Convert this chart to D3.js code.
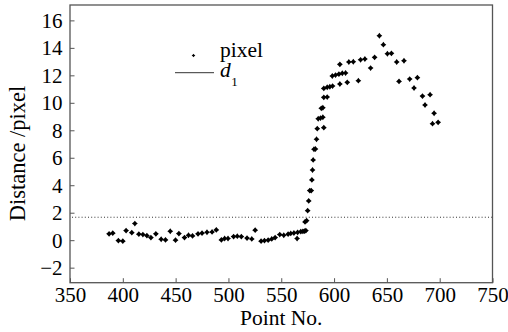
<!DOCTYPE html>
<html><head><meta charset="utf-8">
<script src="https://cdn.jsdelivr.net/npm/d3@7"></script>
<style>
html,body{margin:0;padding:0;background:#fff;}
svg{display:block;}
svg text{font-family:"Liberation Serif","Tinos","Times New Roman","DejaVu Serif",serif !important;fill:#000;}
</style></head>
<body>
<svg id="chart" width="508" height="332" font-family="Liberation Serif"></svg>
<script>
// Point numbers and distances (pixel)
const pointNo = [
 387.0,390.5,395.8,400.0,403.1,408.5,411.4,415.2,419.0,422.8,426.6,431.3,436.3,440.4,444.9,449.9,
 453.1,458.4,462.2,466.0,471.2,475.0,479.7,484.5,488.5,493.3,496.4,499.6,504.9,508.4,512.2,517.6,
 522.1,525.3,530.9,534.1,537.6,541.0,544.2,548.6,552.4,556.5,559.0,562.0,565.5,568.5,570.5,572.0,
 573.3,565.0,572.5,574.0,575.0,576.0,577.0,578.4,579.0,579.6,580.2,581.0,582.4,583.4,584.1,590.3,
 585.0,587.2,589.4,587.9,589.4,590.3,593.5,590.3,593.5,596.0,598.6,605.5,612.5,623.0,598.3,601.4,
 604.6,607.8,610.9,605.5,614.0,618.2,625.1,629.2,634.6,638.4,642.9,646.7,650.5,654.3,659.3,661.5,
 666.2,671.6,675.7,678.9,683.7,686.1,690.9,693.2,694.7,698.5
];
const distance = [
 0.46,0.51,-0.03,-0.07,0.70,0.55,1.21,0.44,0.41,0.33,0.19,0.46,0.07,0.02,0.65,0.00,
 0.48,0.19,0.36,0.31,0.46,0.51,0.58,0.60,0.75,0.02,0.12,0.12,0.26,0.29,0.26,0.15,
 0.09,0.73,-0.07,-0.03,0.00,0.09,0.19,0.41,0.36,0.44,0.49,0.52,0.57,0.62,0.64,0.66,
 0.70,0.12,1.33,1.42,2.15,2.86,3.61,3.61,4.39,5.11,5.84,6.62,6.64,7.35,8.12,8.19,
 8.84,8.89,8.95,9.60,9.64,10.40,10.42,11.05,11.13,11.17,11.22,11.37,11.49,11.61,11.95,12.02,
 12.09,12.15,12.17,12.80,12.97,12.99,13.13,13.19,12.53,13.31,14.88,14.23,13.57,13.60,12.97,11.56,
 13.06,11.73,11.08,11.83,10.49,9.84,10.59,8.48,9.24,8.58
];
const d1Value = 1.67;
const xTicks = [350,400,450,500,550,600,650,700,750];
const yTicks = [-2,0,2,4,6,8,10,12,14,16];
const xLabel = "Point No.";
const yLabel = "Distance /pixel";
const legendPixel = "pixel";

const FONT = "Liberation Serif";
const svg = d3.select("#chart");
const L = 70, R = 492.5, T = 5, B = 282.7;
const x = d3.scaleLinear().domain([350,750]).range([L,R]);
const y = d3.scaleLinear().domain([-3.095,17.12]).range([B,T]);
const axisColor = "#555";

// star marker
const star = {
  draw(ctx, size){
    const r = Math.sqrt(size)/2, k = r*0.45;
    ctx.moveTo(0,-r); ctx.lineTo(k,-k); ctx.lineTo(r,0); ctx.lineTo(k,k);
    ctx.lineTo(0,r); ctx.lineTo(-k,k); ctx.lineTo(-r,0); ctx.lineTo(-k,-k); ctx.closePath();
  }
};

// axes
const gx = svg.append("g").attr("transform",`translate(0,${B})`)
  .call(d3.axisBottom(x).tickValues(xTicks).tickSize(-4.5).tickPadding(0).tickFormat(d3.format("d")));
gx.attr("font-family",FONT).attr("font-size",21);
gx.select(".domain").remove();
gx.selectAll("line").attr("stroke",axisColor).attr("stroke-width",1);
gx.selectAll("text").attr("font-family",FONT).attr("font-size",21).attr("dy",null).attr("y",19.5);

const gy = svg.append("g").attr("transform",`translate(${L},0)`)
  .call(d3.axisLeft(y).tickValues(yTicks).tickSize(-4.5).tickPadding(7.5));
gy.attr("font-family",FONT).attr("font-size",21);
gy.select(".domain").remove();
gy.selectAll("line").attr("stroke",axisColor).attr("stroke-width",1);
gy.selectAll("text").attr("font-family",FONT).attr("font-size",21).attr("dy","0.33em");

// dotted d1 line
svg.append("line").attr("x1",x(350)+2).attr("x2",x(750)).attr("y1",y(d1Value)).attr("y2",y(d1Value))
  .attr("stroke","#333").attr("stroke-width",1).attr("stroke-dasharray","1,2.2");

// frame
svg.append("rect").attr("x",L).attr("y",T).attr("width",R-L).attr("height",B-T)
  .attr("fill","none").attr("stroke",axisColor).attr("stroke-width",1.3);

// points
const sym = d3.symbol().type(star).size(34);
svg.append("g").selectAll("path").data(pointNo.map((p,i)=>[p,distance[i]])).join("path")
  .attr("transform",d=>`translate(${x(d[0])},${y(d[1])})`)
  .attr("d",sym).attr("fill","#000");

// legend
svg.append("path").attr("transform","translate(193.5,55.5)").attr("d",d3.symbol().type(star).size(14)).attr("fill","#000");
svg.append("text").attr("font-family",FONT).attr("x",220).attr("y",57).attr("font-size",21.5).text(legendPixel);
svg.append("line").attr("x1",175).attr("x2",214).attr("y1",72.7).attr("y2",72.7).attr("stroke","#333").attr("stroke-width",1);
const dt = svg.append("text").attr("font-family",FONT).attr("x",220).attr("y",77).attr("font-size",21.5);
dt.append("tspan").attr("font-style","italic").text("d");
dt.append("tspan").attr("font-size",13).attr("dy",9).attr("dx",0.5).text("1");

// axis titles
svg.append("text").attr("font-family",FONT).attr("x",(L+R)/2).attr("y",325).attr("text-anchor","middle").attr("font-size",21.5).text(xLabel);
svg.append("text").attr("font-family",FONT).attr("transform","translate(25,153.5) rotate(-90)").attr("text-anchor","middle").attr("font-size",22.5).text(yLabel);
</script>
</body></html>
